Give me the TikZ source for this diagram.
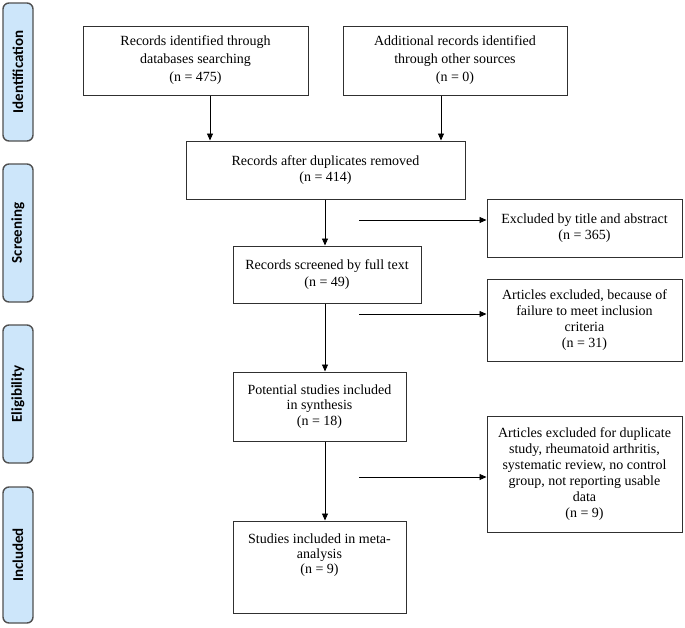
\documentclass[tikz,border=0pt]{standalone}
\usepackage{fontspec}
\setmainfont{Liberation Serif}
\newfontfamily\sidefont{Carlito}
\usetikzlibrary{arrows.meta}
\definecolor{sidefill}{HTML}{CDE6FA}
\definecolor{sidedraw}{HTML}{505050}
\definecolor{boxdraw}{HTML}{303030}
\begin{document}
\begin{tikzpicture}[x=1pt,y=-1pt,
  box/.style={draw=boxdraw, line width=1pt, align=center, inner sep=0pt,
    font=\fontsize{14}{#1}\selectfont},
  box/.default=16,
  side/.style={draw=sidedraw, fill=sidefill, line width=1.4pt, rounded corners=6pt,
    minimum width=30pt, inner sep=0pt},
  sidetext/.style={rotate=90, font=\sidefont\bfseries\fontsize{15}{18}\selectfont},
  arr/.style={draw=black, line width=0.9pt, -{Triangle[length=7pt,width=6pt]}}]
\useasboundingbox (0,0) rectangle (685,627);
% phase labels
\node[side, minimum height=138pt] (sid) at (18,72) {};
\node[sidetext] (tid) at (sid) {Identification};
\node[side, minimum height=138pt] (ssc) at (18,233) {};
\node[sidetext] (tsc) at (ssc) {Screening};
\node[side, minimum height=138pt] (sel) at (18,394) {};
\node[sidetext] (tel) at (sel) {Eligibility};
\node[side, minimum height=136pt] (sin) at (18,555) {};
\node[sidetext] (tin) at (sin) {Included};
% boxes
\node[box=18, minimum width=225pt, minimum height=69pt] (b1) at (195.5,60.5)
  {Records identified through\\databases searching\\(n = 475)};
\node[box=18, minimum width=224pt, minimum height=69pt] (b2) at (455,60.5)
  {Additional records identified\\through other sources\\(n = 0)};
\node[box=15.5, minimum width=279pt, minimum height=58pt] (b3) at (325.5,170)
  {Records after duplicates removed\\(n = 414)};
\node[box, minimum width=195pt, minimum height=58pt] (b4) at (584.5,228)
  {Excluded by title and abstract\\(n = 365)};
\node[box=16.5, minimum width=188pt, minimum height=57pt] (b5) at (327,274.5)
  {Records screened by full text\\(n = 49)};
\node[box, minimum width=195pt, minimum height=82pt] (b6) at (584.5,320.5)
  {Articles excluded, because of\\failure to meet inclusion\\criteria\\(n = 31)};
\node[box=15.5, minimum width=173pt, minimum height=69pt] (b7) at (319.5,406.5)
  {Potential studies included\\in synthesis\\(n = 18)};
\node[box, minimum width=195pt, minimum height=116pt] (b8) at (584.5,474.5)
  {Articles excluded for duplicate\\study, rheumatoid arthritis,\\systematic review, no control\\group, not reporting usable\\data\\(n = 9)};
\node[box=15, minimum width=173pt, minimum height=92pt] (b9) at (319.5,567)
  {\parbox[c][88pt][t]{170pt}{\centering\vspace{11pt}Studies included in meta-\\analysis\\(n = 9)}};
% arrows
\draw[arr] (b1.south -| 210,0) -- (b3.north -| 210,0);
\draw[arr] (b2.south -| 441,0) -- (b3.north -| 441,0);
\draw[arr] (b3.south -| 325,0) -- (b5.north -| 325,0);
\draw[arr] (b5.south -| 325,0) -- (b7.north -| 325,0);
\draw[arr] (b7.south -| 325,0) -- (b9.north -| 325,0);
\coordinate (h1) at (359,220);
\coordinate (h2) at (359,314);
\coordinate (h3) at (359,477);
\draw[arr] (h1) -- (h1 -| b4.west);
\draw[arr] (h2) -- (h2 -| b6.west);
\draw[arr] (h3) -- (h3 -| b8.west);
\end{tikzpicture}
\end{document}
